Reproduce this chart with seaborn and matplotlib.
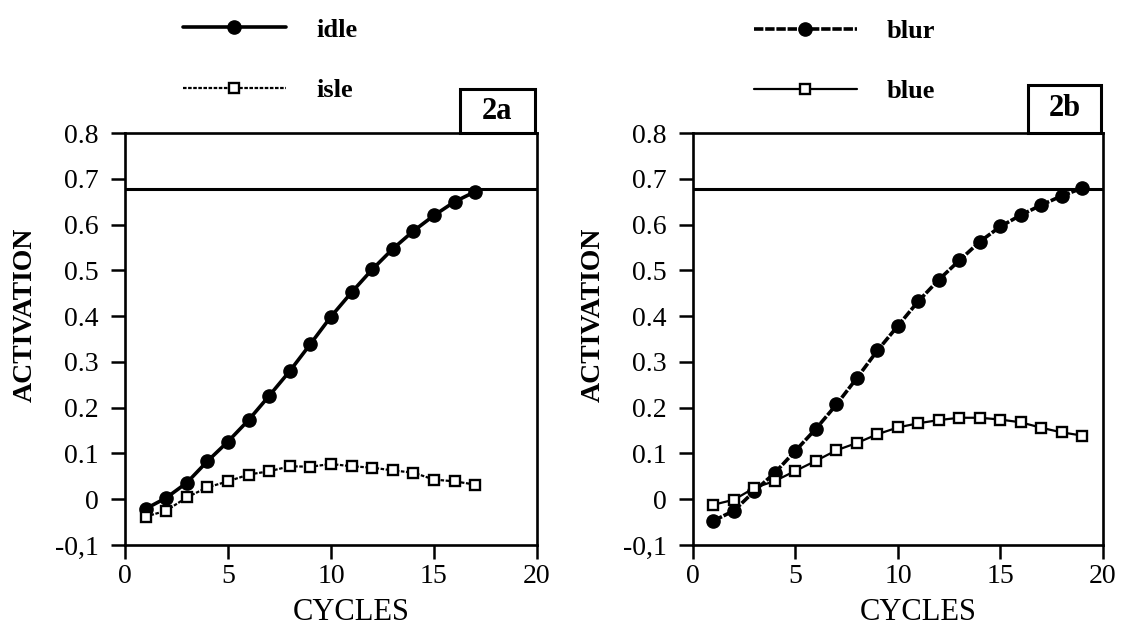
import pandas as pd
import matplotlib
matplotlib.use("Agg")
import matplotlib.pyplot as plt
import seaborn as sns
from matplotlib.patches import Rectangle

# ============================================
# DATA
# ============================================
cycles_a = list(range(1, 18))
idle = [-0.021, 0.003, 0.036, 0.083, 0.126, 0.173, 0.226, 0.280, 0.339,
        0.399, 0.452, 0.502, 0.547, 0.586, 0.620, 0.650, 0.672]
isle = [-0.038, -0.025, 0.004, 0.026, 0.039, 0.054, 0.061, 0.072, 0.071,
        0.077, 0.072, 0.069, 0.063, 0.058, 0.043, 0.039, 0.032]

cycles_b = list(range(1, 20))
blur = [-0.047, -0.025, 0.018, 0.058, 0.106, 0.154, 0.207, 0.265, 0.325,
        0.379, 0.433, 0.480, 0.522, 0.563, 0.596, 0.621, 0.643, 0.663, 0.680]
blue = [-0.012, -0.001, 0.025, 0.040, 0.062, 0.084, 0.107, 0.123, 0.142,
        0.157, 0.166, 0.173, 0.178, 0.178, 0.174, 0.168, 0.156, 0.146, 0.139]

threshold = 0.678

y_ticks = [-0.1, 0, 0.1, 0.2, 0.3, 0.4, 0.5, 0.6, 0.7, 0.8]
y_tick_labels = ["-0,1", "0", "0.1", "0.2", "0.3", "0.4", "0.5", "0.6", "0.7", "0.8"]
x_ticks = [0, 5, 10, 15, 20]

df_a = pd.DataFrame({"cycle": cycles_a, "idle": idle, "isle": isle})
df_b = pd.DataFrame({"cycle": cycles_b, "blur": blur, "blue": blue})

# ============================================
# STYLE
# ============================================
sns.set_style("ticks")
plt.rcParams['font.family'] = ['Liberation Serif', 'DejaVu Serif']
plt.rcParams.update({
    "axes.linewidth": 1.9,
    "axes.edgecolor": "black",
    "axes.labelcolor": "black",
    "text.color": "black",
    "xtick.color": "black",
    "ytick.color": "black",
})

DOTTED = (0, (1.6, 0.7))
DENSE_DOTS = (0, (2.6, 0.5))

fig = plt.figure(figsize=(11.25, 6.26), dpi=100)
ax_a = fig.add_axes([0.1111, 0.1294, 0.3662, 0.658])
ax_b = fig.add_axes([0.616, 0.1294, 0.3644, 0.658])


def draw_series(ax, df, col, filled, ls):
    if filled:
        sns.lineplot(data=df, x="cycle", y=col, ax=ax, color="black",
                     linewidth=2.6, linestyle=ls, marker="o", markersize=9.5,
                     markerfacecolor="black", markeredgecolor="black",
                     markeredgewidth=1, label=col)
    else:
        sns.lineplot(data=df, x="cycle", y=col, ax=ax, color="black",
                     linewidth=1.6, linestyle=ls, marker="s", markersize=7.5,
                     markerfacecolor="white", markeredgecolor="black",
                     markeredgewidth=1.7, label=col)


def style_panel(ax, tag, box_x, box_h, leg_anchor):
    ax.axhline(threshold, color="black", linewidth=2.2)
    ax.set_xlim(0, 20)
    ax.set_ylim(-0.1, 0.8)
    ax.set_xticks(x_ticks)
    ax.set_yticks(y_ticks)
    ax.set_yticklabels(y_tick_labels)
    ax.tick_params(direction="out", length=10, width=1.8, labelsize=20)
    ax.tick_params(axis="y", pad=9)
    ax.tick_params(axis="x", pad=4)
    for s in ax.spines.values():
        s.set_visible(True)
        s.set_linewidth(1.9)
    ax.set_xlabel("CYCLES", fontsize=22)
    ax.set_ylabel("ACTIVATION", fontsize=20, fontweight="bold")
    ax.xaxis.set_label_coords(0.55, -0.165)
    ax.xaxis.label.set_va("center")
    ax.yaxis.set_label_coords(-0.243, 0.56)
    ax.yaxis.label.set_va("center")
    ax.yaxis.label.set_ha("center")

    # panel tag box sitting on the top spine
    ax.add_patch(Rectangle((box_x, 1.0), 0.995 - box_x, box_h, transform=ax.transAxes,
                           fill=False, linewidth=2.2, edgecolor="black", clip_on=False))
    ax.text((box_x + 0.995) / 2, 1.0 + box_h / 2, tag, transform=ax.transAxes,
            ha="center", va="center", fontsize=22, fontweight="bold")

    ax.legend(loc="upper left", bbox_to_anchor=leg_anchor, bbox_transform=fig.transFigure,
              frameon=False, handlelength=3.9, handletextpad=1.15, labelspacing=1.4,
              borderpad=0, borderaxespad=0, prop={"weight": "bold", "size": 19})


# ============================================
# PANEL 2a
# ============================================
draw_series(ax_a, df_a, "idle", True, "-")
draw_series(ax_a, df_a, "isle", False, DOTTED)
style_panel(ax_a, "2a", 0.813, 0.107, (0.1627, 0.971))

# ============================================
# PANEL 2b
# ============================================
draw_series(ax_b, df_b, "blur", True, DENSE_DOTS)
draw_series(ax_b, df_b, "blue", False, "-")
style_panel(ax_b, "2b", 0.817, 0.117, (0.670, 0.969))

plt.savefig("out.png", dpi=100)
